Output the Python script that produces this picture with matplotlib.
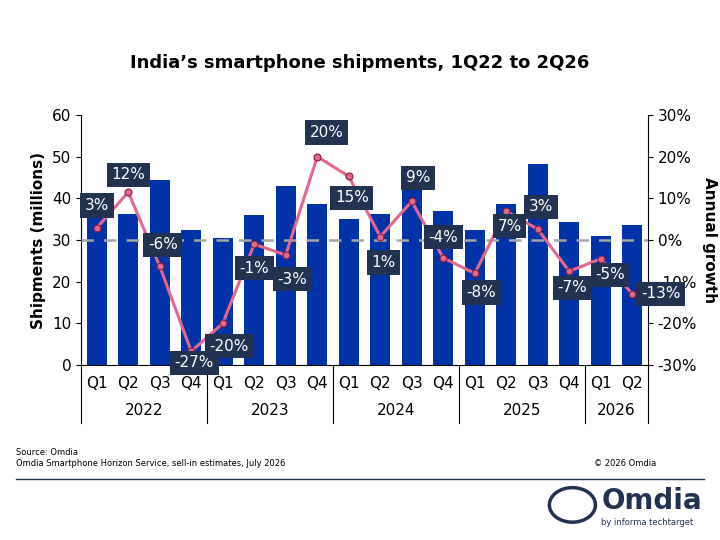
import matplotlib
matplotlib.use("Agg")
import matplotlib.pyplot as plt
import numpy as np

quarters = ["Q1","Q2","Q3","Q4"]*4 + ["Q1","Q2"]
years = ["2022","2023","2024","2025","2026"]
year_counts = [4,4,4,4,2]
shipments = [37.0,36.3,44.5,32.3,30.4,35.9,43.0,38.7,35.1,36.3,43.5,37.0,32.3,38.7,48.3,34.4,30.9,33.7]
growth = [2.9,11.5,-6.3,-26.7,-20.0,-1.0,-3.6,20.0,15.3,0.8,9.3,-4.3,-8.0,6.9,2.6,-7.5,-4.5,-12.9]
growth_labels = ["3%","12%","-6%","-27%","-20%","-1%","-3%","20%","15%","1%","9%","-4%","-8%","7%","3%","-7%","-5%","-13%"]
# label offsets (x in bars, y in % points) – styling only
lab_dx = [0,0,0.1,0.1,0.2,0,0.2,0.3,0.1,0.1,0.2,0,0.2,0.1,0.1,0.1,0.3,0.9]
lab_dy = [5.4,4.2,5.2,-2.8,-5.5,-5.8,-5.8,5.8,-5.2,-6.2,5.6,5.0,-4.6,-3.6,5.4,-4.0,-3.8,0]

fig = plt.figure(figsize=(7.2,5.4), dpi=100)
ax = fig.add_axes([0.1125,0.324,0.7875,0.463])
x = np.arange(len(shipments))
ax.bar(x, shipments, width=0.62, color="#0033A8", zorder=2)
ax.set_ylim(0,60)
ax.set_xlim(-0.5,len(x)-0.5)
ax.set_yticks(range(0,61,10))
ax.set_ylabel("Shipments (millions)", fontsize=11, fontweight="bold")
for s in ["top","right"]:
    ax.spines[s].set_visible(False)
ax.set_xticks(x)
ax.set_xticklabels(quarters, fontsize=11)
ax.tick_params(axis="x", length=0, pad=8)
ax.tick_params(axis="y", labelsize=11)

ax2 = ax.twinx()
ax2.set_ylim(-30,30)
ax2.set_yticks(range(-30,31,10))
ax2.set_yticklabels([f"{v}%" for v in range(-30,31,10)], fontsize=11)
for s in ["top","left","bottom"]:
    ax2.spines[s].set_visible(False)
ax2.set_ylabel("Annual growth", fontsize=11, fontweight="bold", rotation=270, labelpad=14)
ax2.axhline(0, color="#A6A6A6", lw=1.8, ls=(0,(5,4)), zorder=1)
ax2.plot(x, growth, color="#E4688C", lw=2.2, marker="o", ms=5,
         mfc="#E4688C", mec="#8B1A3A", mew=0.8, zorder=3)
for i,(g,l) in enumerate(zip(growth, growth_labels)):
    ax2.text(i+lab_dx[i], g+lab_dy[i], l, ha="center", va="center", color="white",
             fontsize=11, zorder=5,
             bbox=dict(boxstyle="square,pad=0.3", fc="#223352", ec="none"))

trans = ax.get_xaxis_transform()
start = 0
bounds = [-0.5]
for y, c in zip(years, year_counts):
    ax.text(start + (c-1)/2, -0.18, y, transform=trans, ha="center", va="center", fontsize=11)
    start += c
    bounds.append(start-0.5)
for b in bounds:
    ax.plot([b,b],[0,-0.23], transform=trans, color="black", lw=0.8, clip_on=False)

fig.text(0.5,0.875,"India\u2019s smartphone shipments, 1Q22 to 2Q26", ha="center",
         fontsize=13, fontweight="bold")
fig.text(0.022,0.157,"Source: Omdia", fontsize=6)
fig.text(0.022,0.137,"Omdia Smartphone Horizon Service, sell-in estimates, July 2026", fontsize=6)
fig.text(0.825,0.137,"\u00a9 2026 Omdia", fontsize=6)
fig.add_artist(plt.Line2D([0.022,0.978],[0.113,0.113], color="#223352", lw=1))
fig.text(0.835,0.057,"Omdia", fontsize=20, fontweight="bold", color="#223352", ha="left")
fig.text(0.835,0.027,"by informa techtarget", fontsize=6, color="#223352")
circ = plt.Circle((0.795,0.065), 0.032, transform=fig.transFigure, fill=False,
                  ec="#223352", lw=2.5)
fig.add_artist(circ)
fig.savefig("out.png", dpi=100)
